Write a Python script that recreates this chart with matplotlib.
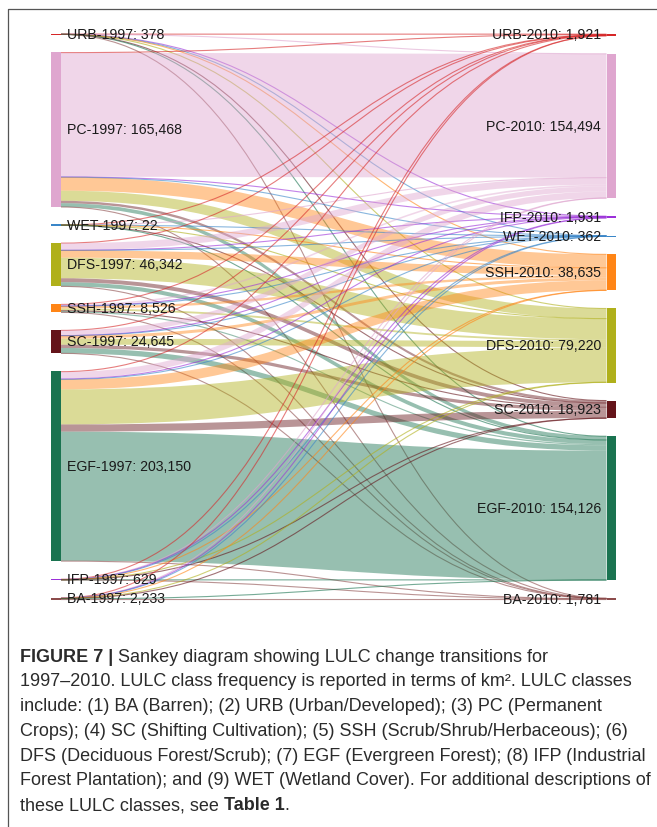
import matplotlib
matplotlib.use("Agg")
import matplotlib.pyplot as plt
from matplotlib.path import Path
from matplotlib.patches import PathPatch, Rectangle
from matplotlib.lines import Line2D
from matplotlib.colors import to_rgba

# ---------------- data ----------------
left_classes = ["URB", "PC", "WET", "DFS", "SSH", "SC", "EGF", "IFP", "BA"]
right_classes = ["URB", "PC", "IFP", "WET", "SSH", "DFS", "SC", "EGF", "BA"]
totals_1997 = [378, 165468, 22, 46342, 8526, 24645, 203150, 629, 2233]
totals_2010 = [1921, 154494, 1931, 362, 38635, 79220, 18923, 154126, 1781]

# transitions 1997 -> 2010, columns follow right_classes order
from_URB = [300, 20, 2, 1, 10, 15, 5, 20, 5]
from_PC = [625, 132461, 469, 42, 14363, 10823, 2597, 3983, 105]
from_WET = [1, 3, 0, 10, 2, 2, 1, 3, 0]
from_DFS = [200, 7500, 150, 20, 7800, 22000, 4200, 4400, 72]
from_SSH = [60, 1800, 40, 10, 2500, 2000, 800, 1300, 16]
from_SC = [80, 5500, 100, 15, 3200, 6500, 3500, 5700, 50]
from_EGF = [600, 7000, 900, 250, 10500, 37500, 7700, 138200, 500]
from_IFP = [15, 60, 250, 4, 60, 80, 30, 120, 10]
from_BA = [40, 150, 20, 10, 200, 300, 90, 400, 1023]
flow_rows = [from_URB, from_PC, from_WET, from_DFS, from_SSH, from_SC,
             from_EGF, from_IFP, from_BA]

class_colors = {
    "URB": "#d62728", "PC": "#dfa6cf", "IFP": "#9b30d9", "WET": "#3a86c8",
    "SSH": "#ff8516", "DFS": "#b0b01a", "SC": "#64141a", "EGF": "#1a7350",
    "BA": "#8c4b4b",
}

caption_lines = [
    [("FIGURE 7 |", "bold"), (" Sankey diagram showing LULC change transitions for", "normal")],
    [("1997\u20132010. LULC class frequency is reported in terms of km\u00b2. LULC classes", "normal")],
    [("include: (1) BA (Barren); (2) URB (Urban/Developed); (3) PC (Permanent", "normal")],
    [("Crops); (4) SC (Shifting Cultivation); (5) SSH (Scrub/Shrub/Herbaceous); (6)", "normal")],
    [("DFS (Deciduous Forest/Scrub); (7) EGF (Evergreen Forest); (8) IFP (Industrial", "normal")],
    [("Forest Plantation); and (9) WET (Wetland Cover). For additional descriptions of", "normal")],
    [("these LULC classes, see ", "normal"), ("Table 1", "bold"), (".", "normal")],
]

# ---------------- figure ----------------
W, H = 657, 827
fig = plt.figure(figsize=(W / 100, H / 100), dpi=100)
ax = fig.add_axes([0, 0, 1, 1])
ax.set_xlim(0, W)
ax.set_ylim(H, 0)
ax.axis("off")

y_top, y_bottom, gap = 34.0, 600.0, 18.0
grand = sum(totals_1997)
scale = (y_bottom - y_top - gap * (len(left_classes) - 1)) / grand

def layout(totals):
    pos, y = [], y_top
    for t in totals:
        pos.append((y, y + t * scale))
        y += t * scale + gap
    return pos

left_pos = layout(totals_1997)
right_pos = layout(totals_2010)

xl0, xl1 = 51.0, 61.0
xr0, xr1 = 606.5, 616.0
xm = (xl1 + xr0) / 2

links = []
for i, row in enumerate(flow_rows):
    for j, v in enumerate(row):
        if v > 0:
            links.append((i, j, v))
src_y = {}
for i in range(len(left_classes)):
    y = left_pos[i][0]
    for j in range(len(right_classes)):
        v = flow_rows[i][j]
        if v > 0:
            src_y[(i, j)] = y
            y += v * scale
tgt_y = {}
for j in range(len(right_classes)):
    y = right_pos[j][0]
    for i in range(len(left_classes)):
        v = flow_rows[i][j]
        if v > 0:
            tgt_y[(i, j)] = y
            y += v * scale

for (i, j, v) in links:
    col = class_colors[right_classes[j]]
    t = v * scale
    ys0, yt0 = src_y[(i, j)], tgt_y[(i, j)]
    if t >= 1.2:
        verts = [(xl1, ys0), (xm, ys0), (xm, yt0), (xr0, yt0),
                 (xr0, yt0 + t), (xm, yt0 + t), (xm, ys0 + t), (xl1, ys0 + t),
                 (xl1, ys0)]
        codes = [Path.MOVETO, Path.CURVE4, Path.CURVE4, Path.CURVE4,
                 Path.LINETO, Path.CURVE4, Path.CURVE4, Path.CURVE4,
                 Path.CLOSEPOLY]
        ax.add_patch(PathPatch(Path(verts, codes), facecolor=to_rgba(col, 0.45),
                               edgecolor="none", zorder=2))
    else:
        yc0, yc1 = ys0 + t / 2, yt0 + t / 2
        verts = [(xl1, yc0), (xm, yc0), (xm, yc1), (xr0, yc1)]
        codes = [Path.MOVETO, Path.CURVE4, Path.CURVE4, Path.CURVE4]
        ax.add_patch(PathPatch(Path(verts, codes), facecolor="none",
                               edgecolor=to_rgba(col, 0.6), lw=0.8, zorder=2))

def draw_nodes(pos, classes, totals, x0, x1, year, side):
    for (a, b), c, tot in zip(pos, classes, totals):
        h = max(b - a, 1.3)
        yc = (a + b) / 2
        ax.add_patch(Rectangle((x0, yc - h / 2), x1 - x0, h,
                               facecolor=class_colors[c], edgecolor="none", zorder=3))
        label = f"{c}-{year}: {tot:,}"
        if side == "left":
            ax.text(67, yc + 0.5, label, ha="left", va="center", fontsize=10.2,
                    family="Liberation Sans", color="#1a1a1a", zorder=4)
        else:
            ax.text(601, yc + 0.5, label, ha="right", va="center", fontsize=10.2,
                    family="Liberation Sans", color="#1a1a1a", zorder=4)

draw_nodes(left_pos, left_classes, totals_1997, xl0, xl1, 1997, "left")
draw_nodes(right_pos, right_classes, totals_2010, xr0, xr1, 2010, "right")

# frame lines
ax.add_line(Line2D([8, 8, W], [H, 8.5, 8.5], color="#555555", lw=0.9, zorder=5))

# caption
fig.canvas.draw()
renderer = fig.canvas.get_renderer()
inv = ax.transData.inverted()
cap_fs = 13.0
y = 657
for line in caption_lines:
    x = 20
    for txt, weight in line:
        t = ax.text(x, y, txt, ha="left", va="center", fontsize=cap_fs,
                    family="Liberation Sans", weight=weight, color="#2b2b2b")
        bb = t.get_window_extent(renderer=renderer)
        x = inv.transform((bb.x1, bb.y0))[0]
    y += 24.8

fig.savefig("out.png", dpi=100)
